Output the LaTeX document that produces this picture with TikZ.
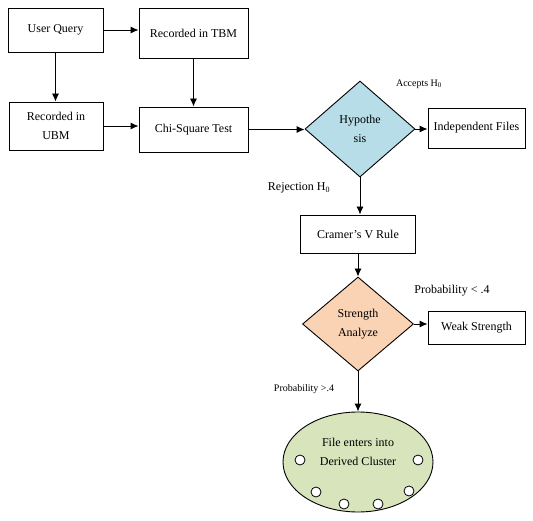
\documentclass[tikz,border=0pt]{standalone}
\usepackage{fontspec}
\setmainfont{Liberation Serif}
\usetikzlibrary{arrows.meta,shapes.geometric,positioning}
\definecolor{hypblue}{HTML}{B7DDE8}
\definecolor{strpeach}{HTML}{FAD3B5}
\definecolor{clusgreen}{HTML}{D8E4BC}
\tikzset{%
	process/.style  = {draw, rectangle, align=center, inner sep=0pt, font=\fontsize{12}{19}\selectfont},
	decision/.style = {draw, diamond, align=center, inner sep=0pt, font=\fontsize{12}{19}\selectfont},
	cluster/.style  = {draw, ellipse, fill=clusgreen, minimum width=150, minimum height=100},
	arrow/.style    = {-{Latex[length=8pt,width=7pt]}},
	lbl/.style      = {inner sep=0pt, font=\fontsize{12}{14}\selectfont},
	smalllbl/.style = {inner sep=0pt, font=\fontsize{10}{12}\selectfont},
}

\begin{document}
\begin{tikzpicture}[x=1pt,y=-1pt,line width=0.9pt]
		\useasboundingbox (0,0) rectangle (533,521);
		
		% left part
		\node[process, minimum width=95, minimum height=44] (uq) at (55.5,30) {User Query};
		\node[process, minimum width=109, minimum height=50] (tbm) at (193.5,33) {Recorded in TBM};
		\node[process, minimum width=94, minimum height=48] (ubm) at (56,126) {Recorded in\\UBM};
		\node[process, minimum width=109, minimum height=45] (chi) at (193.5,129.5) {Chi-Square Test};
		
		\draw[arrow] (uq.east) -- (uq.east -| tbm.west);
		\draw[arrow] (uq.south) -- (uq.south |- ubm.north);
		\draw[arrow] (tbm.south) -- (tbm.south |- chi.north);
		\draw[arrow] (ubm.east) -- (ubm.east -| chi.west);
		
		% hypothesis
		\node[decision, fill=hypblue, minimum width=110, minimum height=96] (hyp) at (360,129) {Hypothe\\sis};
		\node[process, minimum width=97, minimum height=40] (indep) at (476.5,128) {Independent Files};
		\draw[arrow] (chi.east) -- (chi.east -| hyp.west);
		\draw[arrow] (hyp.east) -- (hyp.east -| indep.west);
		\node[smalllbl] (acc) at (419,84) {Accepts H\textsubscript{0}};
		\node[lbl] (rej) at (299,188) {Rejection H\textsubscript{0}};
		
		% strength
		\node[process, minimum width=115, minimum height=38] (cramer) at (358,234) {Cramer's V Rule};
		\draw[arrow] (hyp.south) -- (hyp.south |- cramer.north);
		\node[decision, fill=strpeach, minimum width=111, minimum height=94] (str) at (358,324) {Strength\\Analyze};
		\draw[arrow] (cramer.south) -- (str.north);
		\node[process, minimum width=97, minimum height=33] (weak) at (476.5,327.5) {Weak Strength};
		\draw[arrow] (str.east) -- (str.east -| weak.west);
		\node[lbl] (plow) at (452,291) {Probability < .4};
		\node[smalllbl] (phigh) at (304,389) {Probability >.4};
		
		% cluster
		\node[cluster, label={[align=center, yshift=10pt, font=\fontsize{12}{19}\selectfont]center:File enters into\\Derived Cluster}] (clus) at (358,462) {};
		\draw[arrow] (str.south) -- (clus.north);
		\foreach \cx/\cy in {300/460,418/460,316/492,409/491,344/504,378/504} \draw[fill=white,line width=0.8pt] (\cx,\cy) circle (5pt);
		
		\end{tikzpicture}
\end{document}
